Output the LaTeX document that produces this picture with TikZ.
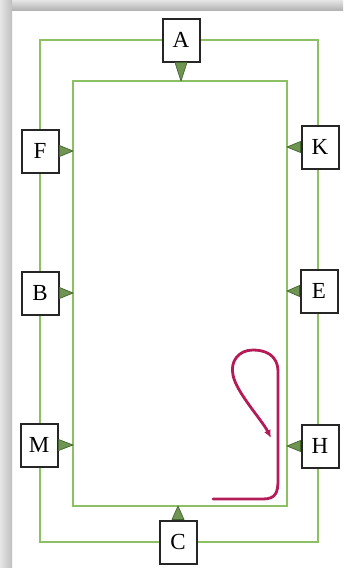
\documentclass[tikz,border=0pt]{standalone}
\usepackage{fontspec}
\setmainfont{Liberation Serif}
\usetikzlibrary{arrows.meta}
\definecolor{arena}{RGB}{140,192,99}
\definecolor{marker}{RGB}{112,148,82}
\definecolor{markerdark}{RGB}{66,100,46}
\definecolor{track}{RGB}{180,28,88}
\tikzset{
  letter/.style={draw=black!85,line width=2pt,fill=white,minimum width=37pt,
    minimum height=43pt,inner sep=0pt,font=\fontsize{23}{24}\selectfont},
  pointer/.style={fill=marker,draw=markerdark,line width=0.7pt,line join=round},
  fence/.style={draw=arena,line width=1.8pt}
}
\begin{document}
\begin{tikzpicture}[x=1pt,y=-1pt]
\useasboundingbox (0,0) rectangle (343,568);
\fill[white] (0,0) rectangle (343,568);
\shade[top color=gray!20,bottom color=gray!60] (0,0) rectangle (343,10);
\shade[left color=gray!20,right color=gray!50] (0,0) rectangle (12,568);
\coordinate (outNW) at (40,40);
\coordinate (outSE) at (318,542);
\coordinate (inNW) at (73,81);
\coordinate (inSE) at (287,506);
\draw[fence] (outNW) rectangle (outSE);
\draw[fence] (inNW) rectangle (inSE);
\foreach \n/\x/\y in {A/181/40,C/178/542,F/40/151,B/40/293,M/39/445,K/320/147,E/319/291,H/320/446}
  \node[letter] (\n) at (\x,\y) {\n};
\filldraw[pointer] ([xshift=-6pt]A.south) -- ([xshift=6pt]A.south) -- (A.south |- inNW) -- cycle;
\filldraw[pointer] ([xshift=-6pt]C.north) -- ([xshift=6pt]C.north) -- (C.north |- inSE) -- cycle;
\foreach \n in {F,B,M}
  \filldraw[pointer] ([yshift=5.5pt]\n.east) -- ([yshift=-5.5pt]\n.east) -- (\n.east -| inNW) -- cycle;
\foreach \n in {K,E,H}
  \filldraw[pointer] ([yshift=5.5pt]\n.west) -- ([yshift=-5.5pt]\n.west) -- (\n.west -| inSE) -- cycle;
\coordinate (start) at (213,499);
\coordinate (finish) at (271,438);
\draw[track,line width=2.8pt,line cap=round,-{Latex[length=8pt,width=7pt]}] (start) -- (263,499)
  .. controls (276,499) and (278,492) .. (278,480) -- (278,372)
  .. controls (278,354) and (264,350) .. (253,350)
  .. controls (238,350) and (230,362) .. (233,375)
  .. controls (236,392) and (262,420) .. (finish);
\end{tikzpicture}
\end{document}
